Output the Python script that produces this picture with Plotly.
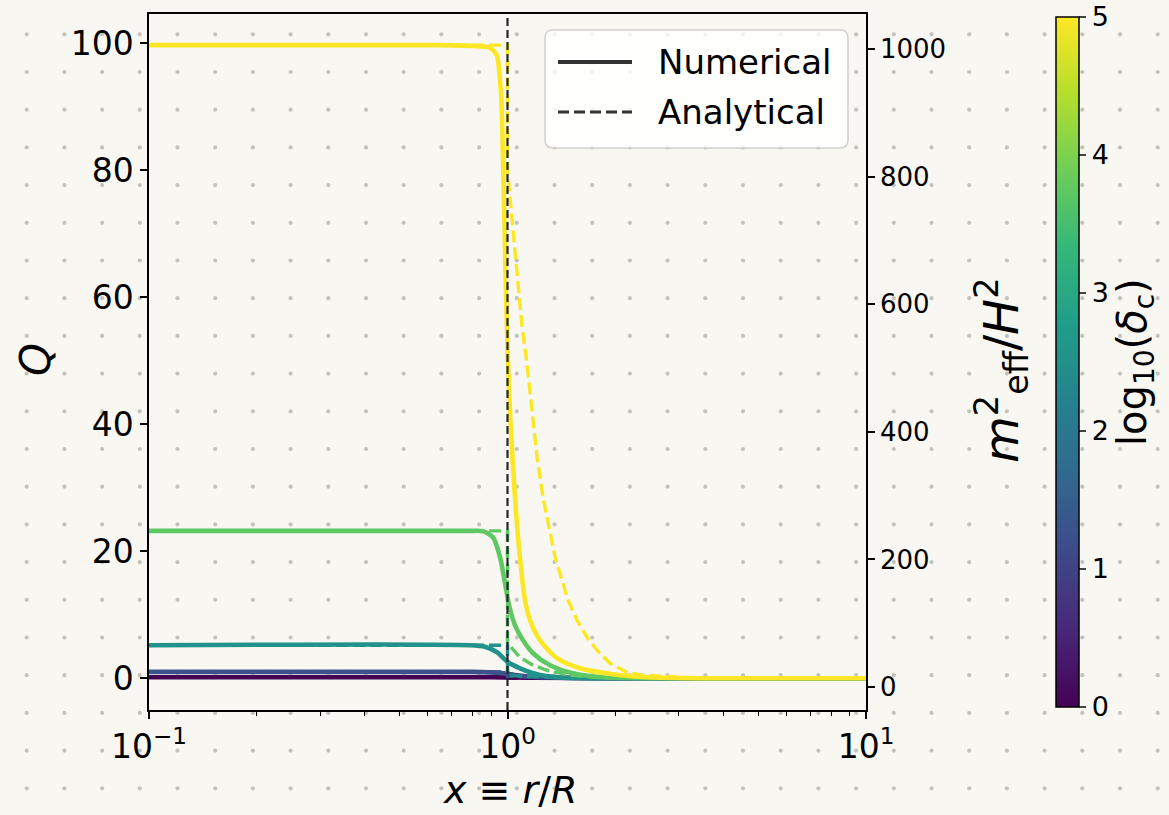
import plotly.graph_objects as go

# ---------------- data ----------------
log_delta = [0.0, 1.25, 2.5, 3.75, 5.0]
colors = ["#440154", "#3b528b", "#21918c", "#5ec962", "#fde725"]

num_x_0 = [0.1, 0.9, 1.2, 2.0, 10]
num_q_0 = [0.15, 0.15, 0.08, 0.0, 0.0]
ana_x_0 = [0.1, 1.0, 1.0, 2.0, 10]
ana_q_0 = [0.15, 0.15, 0.05, 0.0, 0.0]

num_x_1 = [0.1, 0.8, 0.95, 1.05, 1.2, 1.5, 2.0, 10]
num_q_1 = [1.0, 1.0, 0.85, 0.5, 0.2, 0.05, 0.0, 0.0]
ana_x_1 = [0.1, 1.0, 1.0, 1.3, 2.0, 10]
ana_q_1 = [1.0, 1.0, 0.3, 0.1, 0.0, 0.0]

num_x_2 = [0.1, 0.786, 0.865, 0.935, 1.003, 1.084, 1.209, 1.374, 1.8, 10]
num_q_2 = [5.2, 5.2, 4.96, 4.09, 2.52, 1.57, 0.63, 0.16, 0.0, 0.0]
ana_x_2 = [0.1, 1.0, 1.0, 1.1, 1.4, 2.0, 10]
ana_q_2 = [5.2, 5.2, 0.5, 0.3, 0.1, 0.0, 0.0]

num_x_3 = [0.1, 0.786, 0.855, 0.911, 0.953, 0.984, 1.012, 1.05, 1.105, 1.178, 1.314, 1.522, 1.847, 2.68, 10]
num_q_3 = [23.2, 23.2, 23.15, 22.2, 19.1, 15.0, 11.3, 8.3, 5.98, 3.94, 2.05, 0.79, 0.16, 0.0, 0.0]
ana_x_3 = [0.1, 1.0, 1.0, 1.084, 1.178, 1.289, 1.494, 1.81, 10]
ana_q_3 = [23.2, 23.2, 5.5, 3.3, 2.05, 1.26, 0.47, 0.08, 0.0]

num_x_4 = [0.1, 0.65, 0.84, 0.882, 0.911, 0.935, 0.953, 0.962, 0.975, 0.988, 1.003, 1.020,
           1.045, 1.075, 1.119, 1.156, 1.232, 1.374, 1.593, 1.969, 2.449, 3.91, 10]
num_q_4 = [99.7, 99.7, 99.5, 99.4, 98.9, 98.0, 94.2, 91.0, 78.0, 63.0, 50.0, 40.0,
           30.0, 21.0, 12.3, 9.13, 5.98, 3.15, 1.57, 0.63, 0.16, 0.0, 0.0]
ana_x_4 = [0.1, 1.0, 1.0, 1.01, 1.029, 1.049, 1.070, 1.098, 1.133, 1.170, 1.209, 1.256, 1.357,
           1.475, 1.563, 1.667, 1.777, 1.931, 2.154, 2.388, 3.44, 10]
ana_q_4 = [99.7, 99.7, 80.0, 77.3, 71.7, 66.9, 61.1, 55.3, 49.6, 41.7, 34.8, 28.5, 19.1,
           12.3, 9.13, 6.46, 4.41, 2.36, 0.94, 0.47, 0.0, 0.0]

numerical = [(num_x_0, num_q_0), (num_x_1, num_q_1), (num_x_2, num_q_2), (num_x_3, num_q_3), (num_x_4, num_q_4)]
analytical = [(ana_x_0, ana_q_0), (ana_x_1, ana_q_1), (ana_x_2, ana_q_2), (ana_x_3, ana_q_3), (ana_x_4, ana_q_4)]

x_tickvals = [0.1, 1, 10]
x_ticktext = ["10<sup>\u22121</sup>", "10<sup>0</sup>", "10<sup>1</sup>"]
x_minor = [0.2, 0.3, 0.4, 0.5, 0.6, 0.7, 0.8, 0.9, 2, 3, 4, 5, 6, 7, 8, 9]
q_ticks = [0, 20, 40, 60, 80, 100]
m_ticks = [0, 200, 400, 600, 800, 1000]
cb_ticks = [0, 1, 2, 3, 4, 5]
x_range = [0.1, 10]
q_range = [-5.0, 104.6]
m_range = [-36, 1055]
x_marker = 1.0

# ---------------- figure ----------------
W, H = 1169, 815
L, R, T, B = 149, 866, 14, 710
FONT = "DejaVu Sans"
BG = "#f9f7f2"

fig = go.Figure()

for i, ld in enumerate(log_delta):
    xs, qs = numerical[i]
    fig.add_trace(go.Scatter(x=xs, y=qs, mode="lines", line=dict(color=colors[i], width=4.6, shape="spline", smoothing=0.7),
                             showlegend=False, hoverinfo="skip"))
    xs, qs = analytical[i]
    fig.add_trace(go.Scatter(x=xs, y=qs, mode="lines", line=dict(color=colors[i], width=3.4, dash="12px,5px"),
                             showlegend=False, hoverinfo="skip"))

# vertical reference line at x = 1
fig.add_trace(go.Scatter(x=[x_marker, x_marker], y=[q_range[0], q_range[1]], mode="lines",
                         line=dict(color="#262626", width=2.2, dash="8px,4px"), showlegend=False, hoverinfo="skip"))

# right axis (m_eff^2/H^2) carrier trace (invisible)
fig.add_trace(go.Scatter(x=[x_range[0]], y=[m_ticks[0]], yaxis="y2", mode="markers", marker=dict(opacity=0),
                         showlegend=False, hoverinfo="skip"))

# colorbar carrier
cb_top, cb_bot = 17, 707
fig.add_trace(go.Scatter(x=[None], y=[None], mode="markers", showlegend=False, hoverinfo="skip",
                         marker=dict(color=[log_delta[0], log_delta[-1]], colorscale="Viridis", cmin=0, cmax=5, showscale=True,
                                     colorbar=dict(thickness=23, len=cb_bot - cb_top, lenmode="pixels",
                                                   x=(1056 - L) / (R - L), xanchor="left",
                                                   y=(B - (cb_top + cb_bot) / 2) / (B - T), yanchor="middle", xpad=0, ypad=0,
                                                   outlinewidth=1.5, outlinecolor="black", ticklabeloverflow="allow",
                                                   tickmode="array", tickvals=cb_ticks, ticks="outside", ticklen=7, tickwidth=1.5,
                                                   tickfont=dict(family=FONT, size=27, color="black")))))

axis_common = dict(showgrid=False, zeroline=False, linecolor="black", linewidth=1.5,
                   ticks="outside", ticklen=7, tickwidth=1.5, tickcolor="black")

fig.update_layout(
    width=W, height=H,
    margin=dict(l=L, r=W - R, t=T, b=H - B),
    paper_bgcolor=BG, plot_bgcolor="rgba(0,0,0,0)",
    font=dict(family=FONT, color="black"),
    xaxis=dict(type="log", range=[-1, 1], tickvals=x_tickvals, ticktext=x_ticktext, showline=True, mirror=True,
               tickfont=dict(size=33), minor=dict(tickvals=x_minor, ticks="outside", ticklen=4, tickwidth=1.2, tickcolor="black"),
               **axis_common),
    yaxis=dict(range=q_range, tickvals=q_ticks, showline=True, mirror=False, tickfont=dict(size=33), **axis_common),
    yaxis2=dict(range=m_range, tickvals=m_ticks, overlaying="y", side="right", showline=True,
                tickfont=dict(size=26), **axis_common),
)

def px(xp):
    return (xp - L) / (R - L)

def py(yp):
    return (B - yp) / (B - T)

# dotted background
dot_shapes = []
sp = 37.7
x0d, y0d = 26.7, 34.3
nx = int((W - x0d) / sp) + 1
ny = int((H - y0d) / sp) + 1
for i in range(nx):
    for j in range(ny):
        cx, cy = x0d + i * sp, y0d + j * sp
        dot_shapes.append(dict(type="circle", xref="paper", yref="paper", layer="below",
                               x0=px(cx - 2.1), x1=px(cx + 2.1), y0=py(cy + 2.1), y1=py(cy - 2.1),
                               fillcolor="#c4c2bd", line=dict(width=0)))

# legend box (manual)
lx0, lx1, ly0, ly1, rr = 545, 848, 30, 148, 8
path = (f"M {px(lx0 + rr)} {py(ly0)} L {px(lx1 - rr)} {py(ly0)} Q {px(lx1)} {py(ly0)} {px(lx1)} {py(ly0 + rr)} "
        f"L {px(lx1)} {py(ly1 - rr)} Q {px(lx1)} {py(ly1)} {px(lx1 - rr)} {py(ly1)} "
        f"L {px(lx0 + rr)} {py(ly1)} Q {px(lx0)} {py(ly1)} {px(lx0)} {py(ly1 - rr)} "
        f"L {px(lx0)} {py(ly0 + rr)} Q {px(lx0)} {py(ly0)} {px(lx0 + rr)} {py(ly0)} Z")
legend_shapes = [
    dict(type="path", xref="paper", yref="paper", path=path, fillcolor="rgba(255,255,255,0.8)",
         line=dict(color="#d0d0d0", width=1.5), layer="above"),
    dict(type="line", xref="paper", yref="paper", x0=px(558), x1=px(632), y0=py(62), y1=py(62),
         line=dict(color="#333333", width=4), layer="above"),
    dict(type="line", xref="paper", yref="paper", x0=px(558), x1=px(632), y0=py(112), y1=py(112),
         line=dict(color="#333333", width=3, dash="11px,5px"), layer="above"),
]
fig.update_layout(shapes=dot_shapes + legend_shapes)

annos = [
    dict(text="Numerical", x=px(656), y=py(62), xanchor="left", yanchor="middle", font=dict(size=34)),
    dict(text="Analytical", x=px(656), y=py(112), xanchor="left", yanchor="middle", font=dict(size=34)),
    dict(text="<i>Q</i>", x=px(35), y=py(360), xanchor="center", yanchor="middle", textangle=-90, font=dict(size=42)),
    dict(text="<i>x</i> \u2261 <i>r</i>/<i>R</i>", x=px(510), y=py(790), xanchor="center", yanchor="middle", font=dict(size=38)),
    dict(text="<i>m</i><sup>2</sup><sub>eff</sub>/<i>H</i><sup>2</sup>", x=px(1001), y=py(370), xanchor="center",
         yanchor="middle", textangle=-90, font=dict(size=48)),
    dict(text="log<sub>10</sub>(<i>\u03b4</i><sub>c</sub>)", x=px(1135), y=py(362), xanchor="center", yanchor="middle",
         textangle=-90, font=dict(size=40)),
]
for a in annos:
    a.update(xref="paper", yref="paper", showarrow=False)
    a["font"] = dict(family=FONT, color="black", **a["font"])
fig.update_layout(annotations=annos)

fig.write_html("out.html")
